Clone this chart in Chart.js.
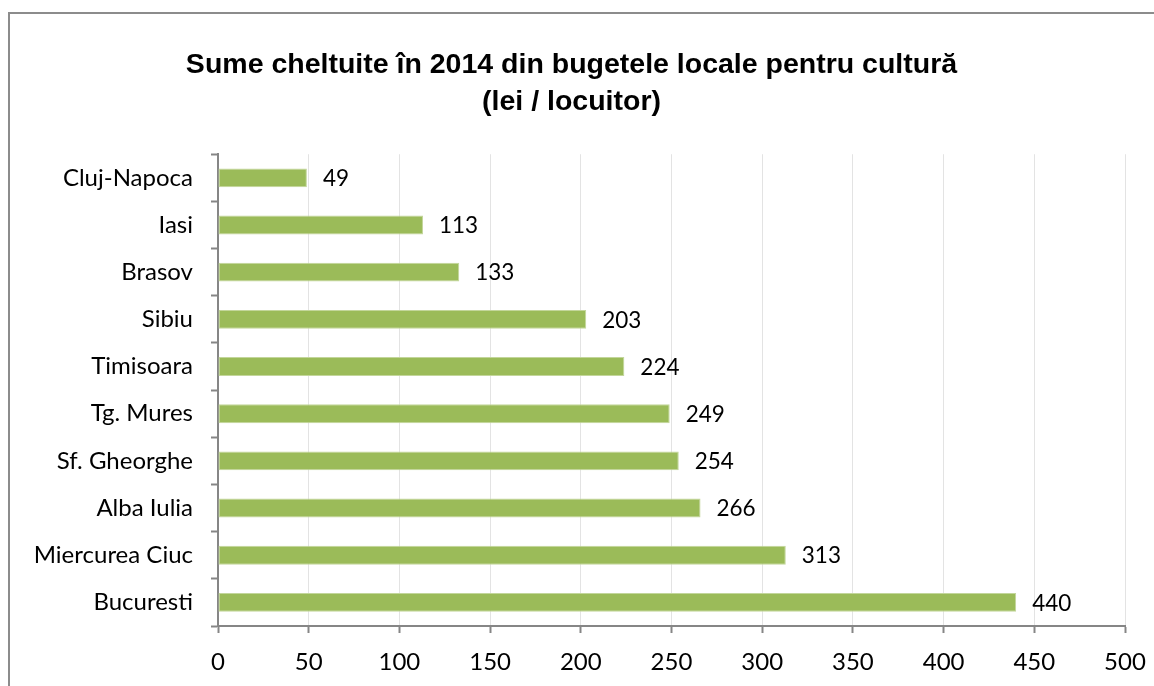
<!DOCTYPE html>
<html>
<head>
<meta charset="utf-8">
<script src="https://cdn.jsdelivr.net/npm/chart.js@4"></script>
<style>
  html, body { margin: 0; padding: 0; background: #fff; overflow: hidden; }
  #frame { position: absolute; left: 8px; top: 12px; width: 1200px; height: 720px; border: 2px solid #8c8c8c; box-sizing: border-box; }
  #wrap { position: absolute; left: 0; top: 0; width: 1154px; height: 686px; }
</style>
</head>
<body>
<div id="frame"></div>
<div id="wrap"><canvas id="c"></canvas></div>
<script>
// date
const cities = ['Cluj-Napoca', 'Iasi', 'Brasov', 'Sibiu', 'Timisoara', 'Tg. Mures',
    'Sf. Gheorghe', 'Alba Iulia', 'Miercurea Ciuc', 'Bucuresti'];
const values = [49, 113, 133, 203, 224, 249, 254, 266, 313, 440];
const xTicks = [0, 50, 100, 150, 200, 250, 300, 350, 400, 450, 500];

const labelFont = { family: 'Lato', size: 24 };

// etichete cu valoarea la capatul barei
const valueLabels = {
    id: 'valueLabels',
    afterDatasetsDraw(chart) {
        const ctx = chart.ctx;
        const meta = chart.getDatasetMeta(0);
        ctx.save();
        ctx.font = '22.5px Lato';
        ctx.fillStyle = '#000';
        ctx.textAlign = 'left';
        ctx.textBaseline = 'middle';
        meta.data.forEach((bar, i) => {
            ctx.fillText(String(values[i]), bar.x + 16, bar.y + 1);
        });
        ctx.restore();
    }
};

new Chart(document.getElementById('c'), {
    type: 'bar',
    data: {
        labels: cities,
        datasets: [{
            data: values,
            backgroundColor: '#9bbb59',
            borderColor: '#c3d69b',
            borderWidth: 1,
            borderSkipped: false,
            categoryPercentage: 1,
            barPercentage: 0.4
        }]
    },
    options: {
        indexAxis: 'y',
        responsive: true,
        maintainAspectRatio: false,
        animation: false,
        layout: { padding: { left: 18, right: 29, top: 0, bottom: 0 } },
        plugins: {
            legend: { display: false },
            tooltip: { enabled: false },
            title: {
                display: true,
                text: ['Sume cheltuite în 2014 din bugetele locale pentru cultură', '(lei / locuitor)'],
                color: '#000',
                font: { family: 'Liberation Sans', size: 28.5, weight: 'bold', lineHeight: 1.32 },
                padding: { top: 46, bottom: 33 }
            }
        },
        scales: {
            x: {
                min: 0,
                max: 500,
                afterBuildTicks(scale) { scale.ticks = xTicks.map(v => ({ value: v })); },
                afterFit(scale) {
                    scale.height = 60;
                    scale.paddingLeft = 0;
                    scale.paddingRight = 0;
                },
                grid: { color: '#e3e3e3', lineWidth: 1, tickColor: '#868686', tickLength: 7, tickWidth: 2 },
                border: { color: '#868686', width: 2 },
                ticks: { color: '#000', font: labelFont, padding: 15, maxRotation: 0 }
            },
            y: {
                afterFit(scale) { scale.width = 200; },
                grid: { offset: true, drawOnChartArea: false, tickColor: '#868686', tickLength: 7, tickWidth: 2 },
                border: { color: '#868686', width: 2 },
                ticks: { color: '#000', font: labelFont, padding: 18 }
            }
        }
    },
    plugins: [valueLabels]
});
</script>
</body>
</html>
